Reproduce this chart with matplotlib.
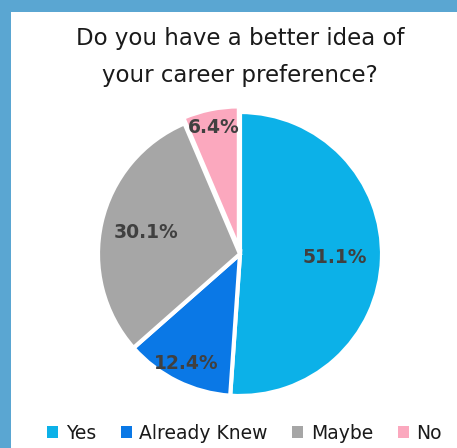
import numpy as np
import matplotlib
matplotlib.use('Agg')
import matplotlib.pyplot as plt
from matplotlib.patches import Rectangle

categorias = ['Yes', 'Already Knew', 'Maybe', 'No']
valores = [51.1, 12.4, 30.1, 6.4]
cores = ['#0cb1e8', '#0a78e6', '#a6a6a6', '#fba8be']
titulo = 'Do you have a better idea of\nyour career preference?'

W, H = 457, 448
fig = plt.figure(figsize=(W / 100, H / 100), dpi=100)
fig.patch.set_facecolor('#5aa6d2')
# area branca (borda azul so na esquerda e em cima)
fig.patches.append(Rectangle((11 / W, 0), 1, 1 - 12 / H, transform=fig.transFigure,
                             facecolor='white', edgecolor='none', zorder=-5))

fig.text(0.525, 1 - 57 / H, titulo, ha='center', va='center', fontsize=16.5,
         color='#1a1a1a', linespacing=1.75)

# eixo do pizza
cx, cy, r = 240, 254, 142
lim = 1.12
aw, ah = 2 * r * lim / W, 2 * r * lim / H
ax = fig.add_axes([cx / W - aw / 2, 1 - cy / H - ah / 2, aw, ah])
ax.set_zorder(3)

wedges, _ = ax.pie(valores, colors=cores, startangle=90, counterclock=False,
                   explode=[0, 0, 0, 0.04],
                   wedgeprops=dict(edgecolor='white', linewidth=3))
ax.set_xlim(-lim, lim)
ax.set_ylim(-lim, lim)
ax.set_aspect('equal')
ax.axis('off')

dist = [0.67, 0.86, 0.68, 0.87]
for w, v, d in zip(wedges, valores, dist):
    ang = np.deg2rad((w.theta1 + w.theta2) / 2)
    x0, y0 = w.center
    ax.text(x0 + d * np.cos(ang), y0 + d * np.sin(ang), f'{v:.1f}%',
            ha='center', va='center', fontsize=13.5, fontweight='bold', color='#404040')

leg = fig.legend(wedges, categorias, loc='center', bbox_to_anchor=(0.535, 1 - 433 / H),
                 ncol=4, frameon=False, fontsize=13.5, handlelength=0.6, handleheight=0.6,
                 handletextpad=0.4, columnspacing=1.3)
for t in leg.get_texts():
    t.set_color('#1a1a1a')
for h in leg.legend_handles:
    h.set_edgecolor('none')

fig.savefig('out.png', dpi=100)
